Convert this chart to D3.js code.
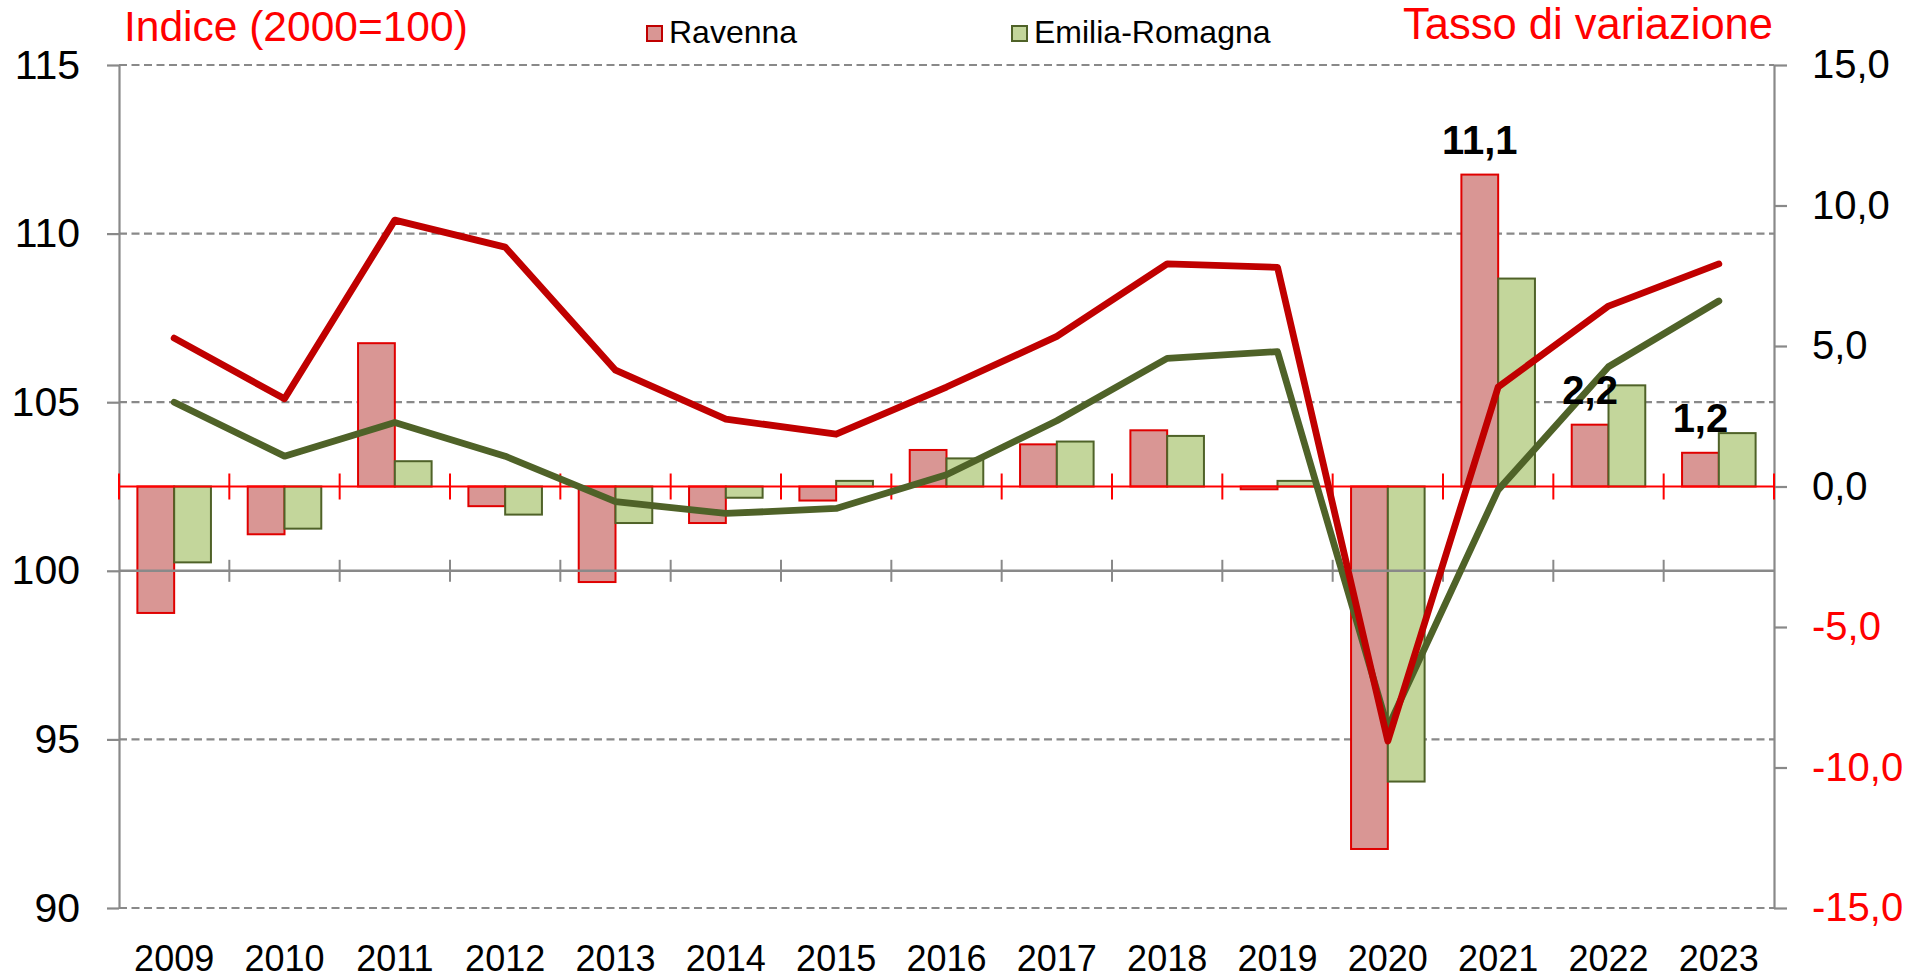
<!DOCTYPE html>
<html>
<head>
<meta charset="utf-8">
<script src="https://cdn.jsdelivr.net/npm/d3@7"></script>
<style>
  body { margin: 0; background: #fff; }
  svg { font-family: "Liberation Sans", Arial, sans-serif; }
</style>
</head>
<body>
<div id="chart"></div>
<script>
// data
const years = ["2009", "2010", "2011", "2012", "2013", "2014", "2015", "2016", "2017", "2018", "2019", "2020", "2021", "2022", "2023"];
const ravennaIndex = [106.9, 105.1, 110.4, 109.6, 105.95, 104.5, 104.05, 105.45, 106.95, 109.1, 109.0, 94.95, 105.45, 107.85, 109.1];
const emiliaIndex = [105.0, 103.4, 104.4, 103.4, 102.05, 101.7, 101.85, 102.85, 104.45, 106.3, 106.5, 95.35, 102.4, 106.05, 108.0];
const ravennaRate = [-4.5, -1.7, 5.1, -0.7, -3.4, -1.3, -0.5, 1.3, 1.5, 2.0, -0.1, -12.9, 11.1, 2.2, 1.2];
const emiliaRate = [-2.7, -1.5, 0.9, -1.0, -1.3, -0.4, 0.2, 1.0, 1.6, 1.8, 0.2, -10.5, 7.4, 3.6, 1.9];
const labelYears = ["2021", "2022", "2023"];
const leftTicks = [90, 95, 100, 105, 110, 115];
const rightTicks = [-15, -10, -5, 0, 5, 10, 15];

const W = 1926, H = 980;
const margin = { top: 65, right: 152, bottom: 72, left: 119 };
const x0 = margin.left, x1 = W - margin.right, yTop = margin.top, yBot = H - margin.bottom;

const svg = d3.select("#chart").append("svg")
    .attr("width", W)
    .attr("height", H);

svg.append("rect").attr("width", W).attr("height", H).attr("fill", "#fff");

// scales
const x = d3.scaleBand()
    .domain(years)
    .range([x0, x1])
    .paddingInner(1 / 3)
    .paddingOuter(1 / 6);

const xSub = d3.scaleBand()
    .domain(["rav", "er"])
    .range([0, x.bandwidth()]);

const yL = d3.scaleLinear().domain([90, 115]).range([yBot, yTop]);
const yR = d3.scaleLinear().domain([-15, 15]).range([yBot, yTop]);

const step = x.step();
const bounds = d3.range(years.length + 1).map(i => x0 + i * step);
const center = d => x(d) + x.bandwidth() / 2;

const grey = "#898989";

// dashed gridlines (left axis)
svg.append("g")
    .selectAll("line")
    .data(leftTicks.filter(d => d !== 100))
    .join("line")
    .attr("x1", x0).attr("x2", x1)
    .attr("y1", d => yL(d)).attr("y2", d => yL(d))
    .attr("stroke", grey)
    .attr("stroke-width", 2.2)
    .attr("stroke-dasharray", "8,4.5");

// bars
const barData = [];
years.forEach((y, i) => {
    barData.push({ year: y, key: "rav", v: ravennaRate[i] });
    barData.push({ year: y, key: "er", v: emiliaRate[i] });
});

svg.append("g")
    .selectAll("rect")
    .data(barData)
    .join("rect")
    .attr("x", d => x(d.year) + xSub(d.key))
    .attr("width", xSub.bandwidth())
    .attr("y", d => yR(Math.max(0, d.v)))
    .attr("height", d => Math.abs(yR(d.v) - yR(0)))
    .attr("fill", d => d.key === "rav" ? "#D99694" : "#C3D69B")
    .attr("stroke", d => d.key === "rav" ? "#E00000" : "#4F6228")
    .attr("stroke-width", 2);

// left axis
const leftAxis = svg.append("g")
    .attr("transform", `translate(${x0},0)`)
    .call(d3.axisLeft(yL).tickValues(leftTicks).tickSize(12).tickSizeOuter(0).tickPadding(27));
leftAxis.select(".domain").attr("stroke", grey).attr("stroke-width", 2.2);
leftAxis.selectAll(".tick line").attr("stroke", grey).attr("stroke-width", 2.2);
leftAxis.selectAll(".tick text").attr("font-size", 41).attr("fill", "#000");

// right axis
const fmt = d => d3.format(".1f")(d).replace("−", "-").replace(".", ",");
const rightAxis = svg.append("g")
    .attr("transform", `translate(${x1},0)`)
    .call(d3.axisRight(yR).tickValues(rightTicks).tickSize(13).tickSizeOuter(0).tickPadding(25).tickFormat(fmt));
rightAxis.select(".domain").attr("stroke", grey).attr("stroke-width", 2.2);
rightAxis.selectAll(".tick line").attr("stroke", grey).attr("stroke-width", 2.2);
rightAxis.selectAll(".tick text")
    .attr("font-size", 40)
    .attr("fill", d => d < 0 ? "#FF0000" : "#000");

// category labels at the bottom
const bottomAxis = svg.append("g")
    .attr("transform", `translate(0,${yBot})`)
    .call(d3.axisBottom(x).tickSize(0).tickPadding(37));
bottomAxis.select(".domain").remove();
bottomAxis.selectAll(".tick text").attr("font-size", 36).attr("fill", "#000");

// grey category axis at index 100
const g100 = svg.append("g");
g100.append("line")
    .attr("x1", x0).attr("x2", x1)
    .attr("y1", yL(100)).attr("y2", yL(100))
    .attr("stroke", grey).attr("stroke-width", 2.4);
g100.selectAll("line.tk")
    .data(bounds.slice(1, -1))
    .join("line")
    .attr("class", "tk")
    .attr("x1", d => d).attr("x2", d => d)
    .attr("y1", yL(100) - 11).attr("y2", yL(100) + 11)
    .attr("stroke", grey).attr("stroke-width", 2);

// red category axis at rate 0
const g0 = svg.append("g");
g0.append("line")
    .attr("x1", x0).attr("x2", x1)
    .attr("y1", yR(0)).attr("y2", yR(0))
    .attr("stroke", "#FF0000").attr("stroke-width", 2);
g0.selectAll("line.tk")
    .data(bounds)
    .join("line")
    .attr("class", "tk")
    .attr("x1", d => d).attr("x2", d => d)
    .attr("y1", yR(0) - 13).attr("y2", yR(0) + 13)
    .attr("stroke", "#FF0000").attr("stroke-width", 2);

// index lines
const line = d3.line()
    .x(d => center(d.year))
    .y(d => yL(d.v));

const series = [
    { values: emiliaIndex, color: "#4F6228" },
    { values: ravennaIndex, color: "#C00000" }
];

svg.append("g")
    .selectAll("path")
    .data(series)
    .join("path")
    .attr("d", s => line(years.map((y, i) => ({ year: y, v: s.values[i] }))))
    .attr("fill", "none")
    .attr("stroke", s => s.color)
    .attr("stroke-width", 6.8)
    .attr("stroke-linejoin", "round")
    .attr("stroke-linecap", "round");

// data labels over the Ravenna bars
svg.append("g")
    .selectAll("text")
    .data(labelYears)
    .join("text")
    .attr("x", d => x(d) + xSub("rav") + xSub.bandwidth() / 2)
    .attr("y", d => yR(ravennaRate[years.indexOf(d)]) - 21)
    .attr("text-anchor", "middle")
    .attr("font-size", 40)
    .attr("font-weight", "bold")
    .attr("fill", "#000")
    .text(d => fmt(ravennaRate[years.indexOf(d)]));

// axis titles
svg.append("text")
    .attr("x", 124).attr("y", 41)
    .attr("font-size", 42.5)
    .attr("fill", "#FF0000")
    .text("Indice (2000=100)");

svg.append("text")
    .attr("x", 1773).attr("y", 39)
    .attr("text-anchor", "end")
    .attr("font-size", 43.5)
    .attr("fill", "#FF0000")
    .text("Tasso di variazione");

// legend
const legend = [
    { name: "Ravenna", fill: "#D99694", stroke: "#C00000", x: 647 },
    { name: "Emilia-Romagna", fill: "#C3D69B", stroke: "#4F6228", x: 1012 }
];
const lg = svg.append("g")
    .selectAll("g")
    .data(legend)
    .join("g")
    .attr("transform", d => `translate(${d.x},26)`);
lg.append("rect")
    .attr("width", 15).attr("height", 15)
    .attr("fill", d => d.fill)
    .attr("stroke", d => d.stroke)
    .attr("stroke-width", 2);
lg.append("text")
    .attr("x", 22).attr("y", 16.5)
    .attr("font-size", 32)
    .attr("fill", "#000")
    .text(d => d.name);
</script>
</body>
</html>
